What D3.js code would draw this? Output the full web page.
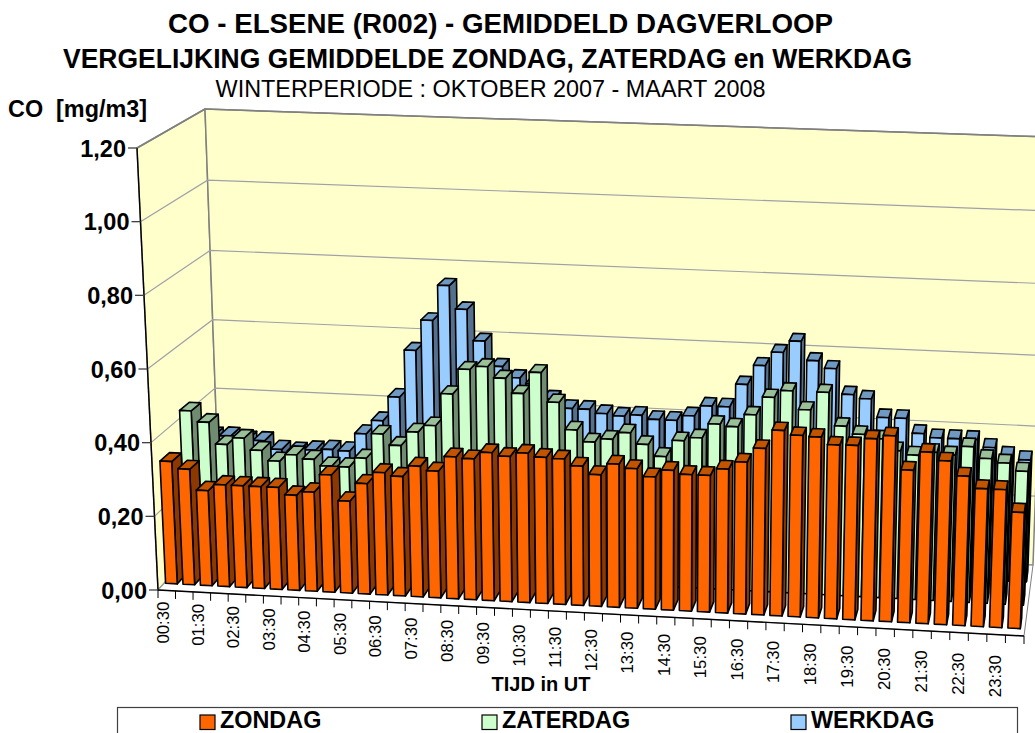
<!DOCTYPE html>
<html><head><meta charset="utf-8">
<script src="https://cdn.jsdelivr.net/npm/d3@7"></script>
<style>html,body{margin:0;padding:0;background:#fff;overflow:hidden}svg{display:block}text{font-family:"Liberation Sans",Arial,sans-serif;fill:#000}</style>
</head><body><svg id="c" width="1035" height="733"></svg>
<script>
const titles=["CO - ELSENE (R002) - GEMIDDELD DAGVERLOOP","VERGELIJKING GEMIDDELDE ZONDAG, ZATERDAG en WERKDAG"];
const subtitle="WINTERPERIODE : OKTOBER 2007 - MAART 2008";
const yTitle="CO  [mg/m3]", xTitle="TIJD in UT";
const seriesNames=["ZONDAG","ZATERDAG","WERKDAG"];
const yTicks=[0,0.2,0.4,0.6,0.8,1.0,1.2];
const slots=["00:30","01:00","01:30","02:00","02:30","03:00","03:30","04:00","04:30","05:00","05:30","06:00","06:30","07:00","07:30","08:00","08:30","09:00","09:30","10:00","10:30","11:00","11:30","12:00","12:30","13:00","13:30","14:00","14:30","15:00","15:30","16:00","16:30","17:00","17:30","18:00","18:30","19:00","19:30","20:00","20:30","21:00","21:30","22:00","22:30","23:00","23:30","24:00"];
const zondag=[.335,.316,.26,.278,.278,.278,.278,.259,.27,.319,.25,.30,.332,.324,.354,.343,.384,.381,.40,.392,.403,.394,.392,.375,.354,.385,.375,.355,.375,.366,.366,.385,.406,.445,.495,.484,.482,.463,.464,.484,.494,.405,.455,.434,.396,.365,.365,.307];
const zaterdag=[.425,.395,.335,.355,.323,.295,.315,.305,.288,.288,.315,.385,.355,.395,.415,.505,.575,.585,.555,.515,.575,.495,.421,.39,.40,.42,.39,.359,.405,.415,.455,.45,.485,.535,.555,.505,.555,.465,.445,.435,.405,.395,.405,.40,.425,.395,.385,.365];
const werkdag=[.301,.303,.294,.294,.271,.268,.274,.278,.276,.328,.368,.438,.573,.66,.76,.695,.608,.538,.508,.493,.453,.428,.428,.418,.413,.418,.408,.408,.423,.453,.453,.518,.573,.612,.645,.593,.573,.503,.493,.443,.443,.403,.393,.393,.393,.373,.353,.343];
const seriesValues=[zondag,zaterdag,werkdag];
const palette=[{f:"#FF6600",s:"#8C3800",t:"#C25400"},{f:"#CCFFCC",s:"#708C70",t:"#99C099"},{f:"#99CCFF",s:"#54708C",t:"#7099C2"}];
const seriesDepth=[.10,.43,.76], barDepth=.15;

// cube corners on screen: [u][w][t]
const C={"000":[158,590],"001":[137,148],"100":[1024,636],"101":[1040,178],"010":[220,522],"011":[205,109],"110":[1033,565],"111":[1048,137]};
const vScale=d3.scaleLinear().domain([0,1.2]).range([0,1]);
const band=d3.scaleBand().domain(slots).range([0,1]).paddingInner(0).paddingOuter(0);
function warp(x,k){return x*k/(1+x*(k-1));}
function P(u,w,t){
  const U=warp(u,.97), T=warp(t,1-.04*w);
  return [0,1].map(d=>{
    const g=(a,b,c)=>C[""+a+b+c][d];
    const lerp=(a,b,f)=>a+(b-a)*f;
    return lerp(lerp(lerp(g(0,0,0),g(1,0,0),U),lerp(g(0,1,0),g(1,1,0),U),w),
                lerp(lerp(g(0,0,1),g(1,0,1),U),lerp(g(0,1,1),g(1,1,1),U),w),T);
  });
}
const svg=d3.select("#c");
const poly=d3.line();
function face(g,pts,fill,stroke,sw){g.append("path").attr("d",poly(pts)+"Z").attr("fill",fill).attr("stroke",stroke).attr("stroke-width",sw).attr("stroke-linejoin","round");}
const chart=svg.append("g");
face(chart,[P(0,0,1),P(0,1,1),P(0,1,0),P(0,0,0)],"#FFFFCC","#808080",1.5);
face(chart,[P(0,1,1),P(1,1,1),P(1,1,0),P(0,1,0)],"#FFFFCC","#808080",1.5);
face(chart,[P(0,0,0),P(0,1,0),P(1,1,0),P(1,0,0)],"#FFFFFF","#808080",1);
yTicks.forEach(v=>{
  const t=vScale(v);
  chart.append("path").attr("d",poly([P(0,0,t),P(0,1,t),P(1,1,t)])).attr("fill","none").attr("stroke",v==1.2?"#808080":"#a0a0a8").attr("stroke-width",v==1.2?1.5:1.2);
});
[2,1,0].forEach(si=>{
  const g=chart.append("g"), w0=seriesDepth[si], w1=w0+barDepth, col=palette[si];
  slots.forEach((s,i)=>{
    const u0=band(s)+band.bandwidth()*.08, u1=band(s)+band.bandwidth()*.75, t=vScale(seriesValues[si][i]);
    face(g,[P(u1,w0,0),P(u1,w1,0),P(u1,w1,t),P(u1,w0,t)],col.s,"#000",1.6);
    face(g,[P(u0,w0,t),P(u1,w0,t),P(u1,w1,t),P(u0,w1,t)],col.t,"#000",1.6);
    face(g,[P(u0,w0,0),P(u1,w0,0),P(u1,w0,t),P(u0,w0,t)],col.f,"#000",1.6);
  });
});
chart.append("path").attr("d",poly([P(0,0,1),P(0,0,0)])).attr("stroke","#000").attr("stroke-width",1.4).attr("fill","none");
chart.append("path").attr("d",poly([P(0,0,0),P(1,0,0)])).attr("stroke","#000").attr("stroke-width",1.4).attr("fill","none");
yTicks.forEach(v=>{
  const p=P(0,0,vScale(v));
  chart.append("line").attr("x1",p[0]-9).attr("x2",p[0]).attr("y1",p[1]).attr("y2",p[1]).attr("stroke","#404040").attr("stroke-width",1.3);
  chart.append("text").attr("x",p[0]-11).attr("y",p[1]+8.5).attr("text-anchor","end").attr("font-size",23.5).attr("font-weight","bold").text(d3.format(".2f")(v).replace(".",","));
});
slots.forEach((s,i)=>{
  const p=P(band(s),0,0);
  chart.append("line").attr("x1",p[0]).attr("x2",p[0]).attr("y1",p[1]).attr("y2",p[1]+8).attr("stroke","#000").attr("stroke-width",1);
  if(i%2==0){
    const u=band(s)+band.bandwidth()/2, c=P(u,0,0);
    chart.append("text").attr("transform",`translate(${c[0]-4+3*u},${c[1]+11+10*u}) rotate(-90)`).attr("text-anchor","end").attr("dy","0.36em").attr("font-size",16.8).text(s);
  }
});
const end=P(1,0,0); chart.append("line").attr("x1",end[0]).attr("x2",end[0]).attr("y1",end[1]).attr("y2",end[1]+8).attr("stroke","#000");
svg.append("text").attr("x",168).attr("y",33).attr("textLength",665).attr("lengthAdjust","spacingAndGlyphs").attr("font-size",27).attr("font-weight","bold").text(titles[0]);
svg.append("text").attr("x",63).attr("y",68).attr("textLength",849).attr("lengthAdjust","spacingAndGlyphs").attr("font-size",27).attr("font-weight","bold").text(titles[1]);
svg.append("text").attr("x",490.5).attr("y",97).attr("text-anchor","middle").attr("font-size",23.4).text(subtitle);
svg.append("text").attr("x",8).attr("y",117).attr("font-size",23.4).attr("font-weight","bold").attr("xml:space","preserve").text(yTitle);
svg.append("text").attr("x",541).attr("y",691).attr("text-anchor","middle").attr("font-size",20).attr("font-weight","bold").text(xTitle);
svg.append("rect").attr("x",117.5).attr("y",707.5).attr("width",900).attr("height",40).attr("fill","#fff").attr("stroke","#404040").attr("stroke-width",1.2);
const legendX=d3.scaleOrdinal().domain(seriesNames).range([200,482,791]);
seriesNames.forEach((n,i)=>{
  const x=legendX(n);
  svg.append("rect").attr("x",x).attr("y",715).attr("width",15).attr("height",14.5).attr("fill",palette[i].f).attr("stroke","#000").attr("stroke-width",1.2);
  svg.append("text").attr("x",x+20).attr("y",728).attr("font-size",23.4).attr("font-weight","bold").text(n);
});
</script></body></html>
